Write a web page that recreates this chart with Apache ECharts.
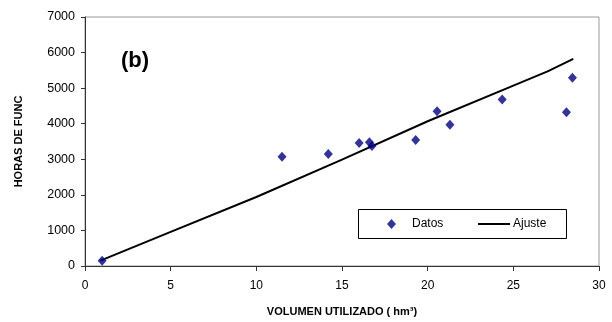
<!DOCTYPE html>
<html>
<head>
<meta charset="utf-8">
<script src="https://cdn.jsdelivr.net/npm/echarts@6/dist/echarts.min.js"></script>
<style>
  html, body { margin: 0; padding: 0; background: #fff; }
  #chart { width: 612px; height: 322px; }
</style>
</head>
<body>
<div id="chart"></div>
<script>
// datos medidos: volumen (hm3) vs horas de funcionamiento
const volumen = [1.0, 11.5, 14.2, 16.0, 16.6, 16.75, 19.3, 20.55, 21.3, 24.35, 28.1, 28.45];
const horas = [150, 3070, 3150, 3460, 3480, 3370, 3540, 4350, 3970, 4680, 4320, 5290];

// curva de ajuste
const ajusteX = [0.9, 5, 10, 15, 20, 25, 27, 28.5];
const ajusteY = [150, 960, 1940, 2990, 4070, 5070, 5470, 5820];

const xTicks = [0, 5, 10, 15, 20, 25, 30];
const yTicks = [0, 1000, 2000, 3000, 4000, 5000, 6000, 7000];

const font = "Liberation Sans, Arial, sans-serif";
const axisColor = "#333";

const chart = echarts.init(document.getElementById("chart"));

const legendBase = {
  orient: "horizontal",
  top: 218,
  padding: 0,
  itemHeight: 10,
  textStyle: { fontFamily: font, fontSize: 12, color: "#000", padding: [0, 0, 0, -2] }
};

chart.setOption({
  animation: false,
  backgroundColor: "#fff",
  grid: { left: 85, right: 13, top: 17, bottom: 55, show: true, borderColor: "#999", borderWidth: 1 },
  xAxis: {
    type: "value",
    min: xTicks[0],
    max: xTicks[xTicks.length - 1],
    interval: 5,
    name: "VOLUMEN UTILIZADO ( hm³)",
    nameLocation: "middle",
    nameGap: 40,
    nameTextStyle: { fontFamily: font, fontSize: 11, fontWeight: "bold", color: "#000" },
    axisLine: { onZero: false, lineStyle: { color: axisColor, width: 1 } },
    axisTick: { show: true, length: 5, lineStyle: { color: axisColor } },
    axisLabel: { fontFamily: font, fontSize: 12, color: "#000", margin: 14 },
    splitLine: { show: false }
  },
  yAxis: {
    type: "value",
    min: yTicks[0],
    max: yTicks[yTicks.length - 1],
    interval: 1000,
    name: "HORAS DE FUNC",
    nameLocation: "middle",
    nameGap: 61,
    nameTextStyle: { fontFamily: font, fontSize: 11, fontWeight: "bold", color: "#000" },
    axisLine: { onZero: false, lineStyle: { color: axisColor, width: 1 } },
    axisTick: { show: true, length: 4, lineStyle: { color: axisColor } },
    axisLabel: { fontFamily: font, fontSize: 12.5, color: "#000", margin: 10, formatter: (v) => String(v) },
    splitLine: { show: false }
  },
  legend: [
    Object.assign({}, legendBase, {
      left: 387,
      itemWidth: 9,
      itemGap: 0,
      textStyle: Object.assign({}, legendBase.textStyle, { padding: [0, 0, 0, 11] }),
      data: [{ name: "Datos", icon: "diamond", itemStyle: { color: "#000080" } }]
    }),
    Object.assign({}, legendBase, {
      left: 478,
      itemWidth: 32,
      itemGap: 0,
      data: [{ name: "Ajuste", icon: "path://M0,0 L32,0 L32,2 L0,2 Z", itemStyle: { color: "#000" } }]
    })
  ],
  graphic: [
    {
      type: "rect",
      shape: { x: 358.5, y: 209.5, width: 208, height: 29 },
      style: { fill: "#fff", stroke: "#000", lineWidth: 1 },
      z: 1
    },
    {
      type: "text",
      left: 121,
      top: 50,
      style: { text: "(b)", fontFamily: font, fontSize: 22, fontWeight: "bold", fill: "#000" }
    }
  ],
  series: [
    {
      name: "Ajuste",
      type: "line",
      data: ajusteX.map((x, i) => [x, ajusteY[i]]),
      showSymbol: false,
      symbol: "none",
      lineStyle: { color: "#000", width: 2 },
      itemStyle: { color: "#000" },
      z: 2
    },
    {
      name: "Datos",
      type: "scatter",
      data: volumen.map((x, i) => [x, horas[i]]),
      symbol: "diamond",
      symbolSize: [9, 10],
      itemStyle: { color: "#000080" },
      z: 3
    }
  ]
});
</script>
</body>
</html>
